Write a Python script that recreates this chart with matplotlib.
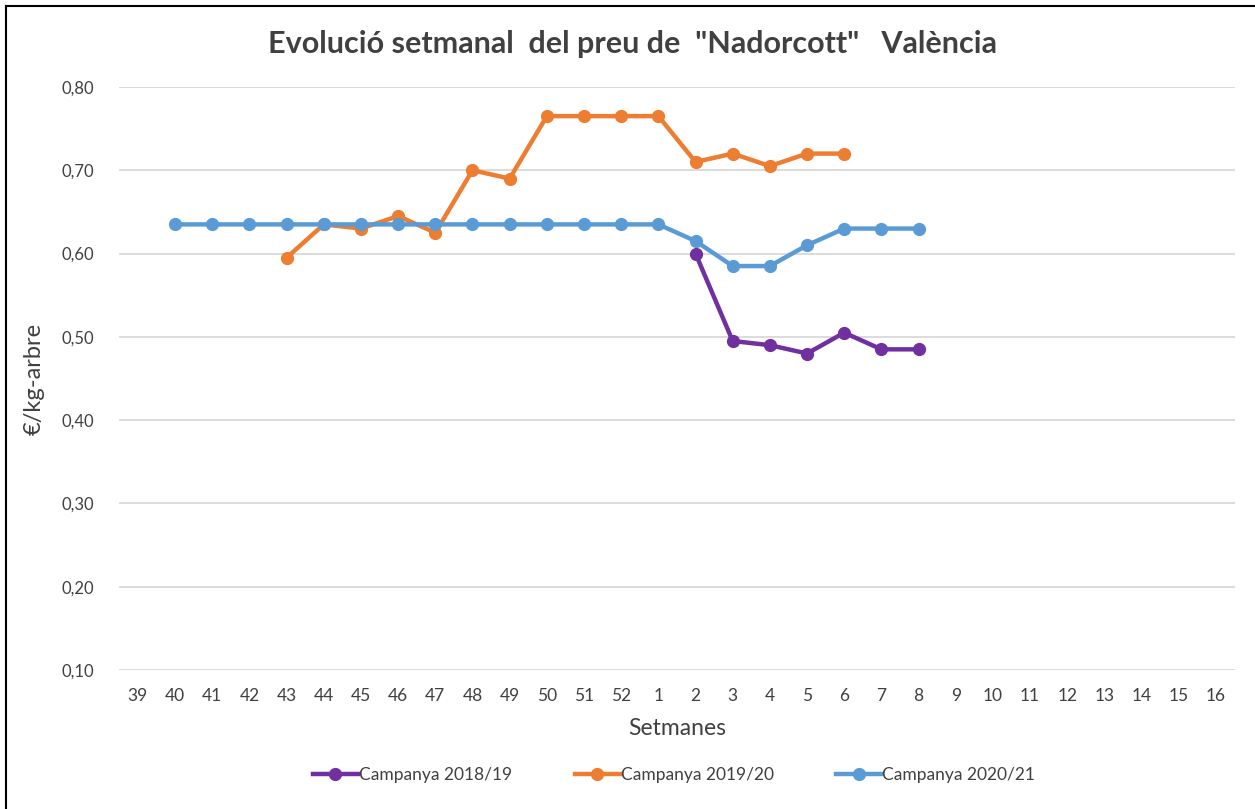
import matplotlib.pyplot as plt
import numpy as np
from matplotlib.lines import Line2D

# Week labels (campaign runs from week 39 to week 16 of next year)
weeks = [str(w) for w in range(39, 53)] + [str(w) for w in range(1, 17)]

# Campanya 2018/19: from week 2 to week 8
weeks_1819 = ["2", "3", "4", "5", "6", "7", "8"]
price_1819 = [0.600, 0.495, 0.490, 0.480, 0.505, 0.485, 0.485]

# Campanya 2019/20: from week 43 to week 6
weeks_1920 = ["43", "44", "45", "46", "47", "48", "49", "50", "51", "52",
              "1", "2", "3", "4", "5", "6"]
price_1920 = [0.595, 0.635, 0.630, 0.645, 0.625, 0.700, 0.690, 0.765, 0.765,
              0.765, 0.765, 0.710, 0.720, 0.705, 0.720, 0.720]

# Campanya 2020/21: from week 40 to week 8
weeks_2021 = ["40", "41", "42", "43", "44", "45", "46", "47", "48", "49", "50",
              "51", "52", "1", "2", "3", "4", "5", "6", "7", "8"]
price_2021 = [0.635, 0.635, 0.635, 0.635, 0.635, 0.635, 0.635, 0.635, 0.635,
              0.635, 0.635, 0.635, 0.635, 0.635, 0.615, 0.585, 0.585, 0.610,
              0.630, 0.630, 0.630]

series = [
    ("Campanya 2018/19", weeks_1819, price_1819, "#7030a0"),
    ("Campanya 2019/20", weeks_1920, price_1920, "#ed7d31"),
    ("Campanya 2020/21", weeks_2021, price_2021, "#5b9bd5"),
]

plt.rcParams["font.family"] = ["Lato", "DejaVu Sans"]
text_col = "#404040"

fig = plt.figure(figsize=(12.55, 8.09), dpi=100)
ax = fig.add_axes([0.0951, 0.1718, 0.8886, 0.7207])

pos = {w: i for i, w in enumerate(weeks)}
handles = []
for label, wk, vals, col in series:
    xs = [pos[w] for w in wk]
    ax.plot(xs, vals, color=col, lw=3.2, marker="o", ms=8.5,
            solid_capstyle="round", zorder=3)
    handles.append(Line2D([], [], color=col, lw=3.2, marker="o", ms=8.5,
                          label=label))

ax.set_xlim(-0.5, len(weeks) - 0.5)
ax.set_ylim(0.10, 0.80)
ax.set_xticks(range(len(weeks)))
ax.set_xticklabels(weeks)
yvals = np.arange(0.10, 0.81, 0.10)
ax.set_yticks(yvals)
ax.set_yticklabels([f"{v:.2f}".replace(".", ",") for v in yvals])
ax.tick_params(length=0, colors=text_col)
ax.tick_params(axis="y", pad=18, labelsize=12)
ax.tick_params(axis="x", pad=13, labelsize=12.5)
ax.grid(axis="y", color="#d9d9d9", lw=1.3)
ax.set_axisbelow(True)
for s in ax.spines.values():
    s.set_visible(False)

ax.set_xlabel("Setmanes", fontsize=16.5, color=text_col, labelpad=10)
ax.set_ylabel("€/kg-arbre", fontsize=17, color=text_col, labelpad=12)

fig.text(0.504, 0.945, 'Evolució setmanal  del preu de  "Nadorcott"   València',
         ha="center", va="center", fontsize=22, fontweight="bold", color=text_col)

fig.legend(handles=handles, loc="center", bbox_to_anchor=(0.537, 0.042),
           ncol=3, frameon=False, fontsize=12.5, handlelength=2.6,
           handletextpad=0.05, columnspacing=3.6, labelcolor=text_col)

# Chart frame (top and left edges visible)
fig.add_artist(Line2D([5.5 / 1255, 5.5 / 1255], [0, 1 - 5.5 / 809],
                      transform=fig.transFigure, color="black", lw=1.5))
fig.add_artist(Line2D([5.5 / 1255, 1], [1 - 5.5 / 809, 1 - 5.5 / 809],
                      transform=fig.transFigure, color="black", lw=1.5))

fig.savefig("out.png", dpi=100)
